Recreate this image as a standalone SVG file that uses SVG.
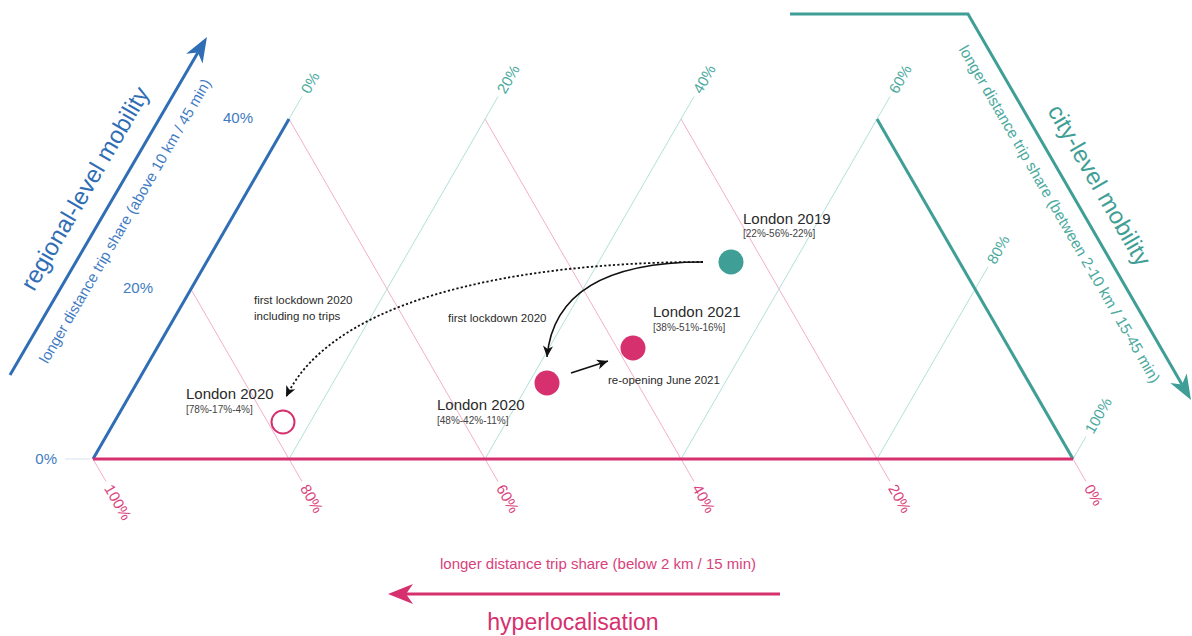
<svg xmlns="http://www.w3.org/2000/svg" width="1192" height="636" viewBox="0 0 1192 636">
<style>
text{font-family:"Liberation Sans",Arial,sans-serif}
.gp{stroke:#f2a6c2;stroke-width:0.9;fill:none}
.gt{stroke:#a9ddd6;stroke-width:0.9;fill:none}
.lb{fill:#3f7bc3;font-size:15px}
.lt{fill:#4aa99e;font-size:15px;dominant-baseline:central}
.lp{fill:#d9417c;font-size:15px;dominant-baseline:central}
.nm{fill:#2a2a2a;font-size:15px}
.br{fill:#444;font-size:10px}
.an{fill:#2a2a2a;font-size:11.5px}
</style>
<defs>
<marker id="mB" markerUnits="userSpaceOnUse" orient="auto" overflow="visible" markerWidth="30" markerHeight="30"><path d="M18,0 L-7,-9.5 L0,0 L-7,9.5 Z" fill="#2f6db5"/></marker>
<marker id="mT" markerUnits="userSpaceOnUse" orient="auto" overflow="visible" markerWidth="30" markerHeight="30"><path d="M18,0 L-7,-9.5 L0,0 L-7,9.5 Z" fill="#3f9e95"/></marker>
<marker id="mP" markerUnits="userSpaceOnUse" orient="auto" overflow="visible" markerWidth="30" markerHeight="30"><path d="M18,0 L-7,-10 L0,0 L-7,10 Z" fill="#d6306e"/></marker>
<marker id="mK" markerUnits="userSpaceOnUse" orient="auto" overflow="visible" markerWidth="20" markerHeight="20"><path d="M0,0 L-11,-5 L-8,0 L-11,5 Z" fill="#111"/></marker>
</defs>

<g id="grid">
<line class="gp" x1="93" y1="459" x2="106" y2="481.5"/>
<line class="gp" x1="191" y1="289.3" x2="302" y2="481.5"/>
<line class="gp" x1="289" y1="119" x2="498" y2="481.5"/>
<line class="gp" x1="485" y1="119" x2="694" y2="481.5"/>
<line class="gp" x1="681" y1="119" x2="890" y2="481.5"/>
<line class="gp" x1="1073" y1="459" x2="1086" y2="481.5"/>
<line class="gt" x1="289" y1="119" x2="302" y2="96.5"/>
<line class="gt" x1="289" y1="459" x2="498" y2="96.5"/>
<line class="gt" x1="485" y1="459" x2="694" y2="96.5"/>
<line class="gt" x1="681" y1="459" x2="890" y2="96.5"/>
<line class="gt" x1="877" y1="459" x2="988" y2="266.8"/>
<line class="gt" x1="1073" y1="459" x2="1086" y2="436.5"/>
<line x1="65" y1="459" x2="90" y2="459" stroke="#d9e3ef" stroke-width="1"/>
</g>

<g id="triangle">
<line x1="93" y1="459" x2="289" y2="119" stroke="#2f6db5" stroke-width="3"/>
<line x1="877" y1="119" x2="1073" y2="459" stroke="#3f9e95" stroke-width="3"/>
<line x1="93" y1="459" x2="1073" y2="459" stroke="#d6306e" stroke-width="3.2"/>
</g>

<g id="axis-labels">
<text class="lb" x="57" y="464" text-anchor="end">0%</text>
<text class="lb" x="138" y="293" text-anchor="middle">20%</text>
<text class="lb" x="238" y="123" text-anchor="middle">40%</text>
<text class="lt" transform="translate(304.5,92) rotate(-60)">0%</text>
<text class="lt" transform="translate(500.5,92) rotate(-60)">20%</text>
<text class="lt" transform="translate(696.5,92) rotate(-60)">40%</text>
<text class="lt" transform="translate(892.5,92) rotate(-60)">60%</text>
<text class="lt" transform="translate(990.5,262.5) rotate(-60)">80%</text>
<text class="lt" transform="translate(1088.5,432) rotate(-60)">100%</text>
<text class="lp" transform="translate(108.5,485.5) rotate(60)">100%</text>
<text class="lp" transform="translate(304.5,485.5) rotate(60)">80%</text>
<text class="lp" transform="translate(500.5,485.5) rotate(60)">60%</text>
<text class="lp" transform="translate(696.5,485.5) rotate(60)">40%</text>
<text class="lp" transform="translate(892.5,485.5) rotate(60)">20%</text>
<text class="lp" transform="translate(1088.5,485.5) rotate(60)">0%</text>
</g>

<g id="regional-axis">
<line x1="10" y1="375" x2="197.9" y2="52.6" stroke="#2f6db5" stroke-width="3" marker-end="url(#mB)"/>
<text transform="translate(92,192.5) rotate(-59.8)" text-anchor="middle" fill="#2f6db5" font-size="24">regional-level mobility</text>
<text transform="translate(129.5,223.6) rotate(-59.8)" text-anchor="middle" fill="#3f7bc3" font-size="15">longer distance trip share (above 10 km / 45 min)</text>
</g>

<g id="city-axis">
<path d="M790,14 L968,14 L1182,384.4" fill="none" stroke="#3f9e95" stroke-width="3" marker-end="url(#mT)"/>
<text transform="translate(1092.3,189.3) rotate(60)" text-anchor="middle" fill="#3f9e95" font-size="24">city-level mobility</text>
<text transform="translate(1055,216.7) rotate(60)" text-anchor="middle" fill="#4aa99e" font-size="15.4">longer distance trip share (between 2-10 km / 15-45 min)</text>
</g>

<g id="local-axis">
<line x1="780" y1="594" x2="406" y2="594" stroke="#d6306e" stroke-width="3" marker-end="url(#mP)"/>
<text x="598" y="569" text-anchor="middle" fill="#d9417c" font-size="15">longer distance trip share (below 2 km / 15 min)</text>
<text x="573" y="630" text-anchor="middle" fill="#d6306e" font-size="23">hyperlocalisation</text>
</g>

<g id="connectors">
<path d="M703,262 C560,262 340,285 286,397" fill="none" stroke="#111" stroke-width="1.8" stroke-dasharray="2.2 2.2" marker-end="url(#mK)"/>
<path d="M703,262 C610,262 553,290 547,357" fill="none" stroke="#111" stroke-width="1.6" marker-end="url(#mK)"/>
<line x1="571" y1="373" x2="608" y2="361" stroke="#111" stroke-width="1.8" marker-end="url(#mK)"/>
<text class="an" x="254" y="304">first lockdown 2020</text>
<text class="an" x="254" y="320">including no trips</text>
<text class="an" x="448" y="322">first lockdown 2020</text>
<text class="an" x="608" y="384">re-opening June 2021</text>
</g>

<g id="london-2019">
<circle cx="731" cy="262" r="12.5" fill="#3f9e95"/>
<text class="nm" x="743" y="224">London 2019</text>
<text class="br" x="743" y="237">[22%-56%-22%]</text>
</g>

<g id="london-2021">
<circle cx="633" cy="348" r="12.5" fill="#d6306e"/>
<text class="nm" x="653" y="317">London 2021</text>
<text class="br" x="653" y="331">[38%-51%-16%]</text>
</g>

<g id="london-2020-b">
<circle cx="547" cy="383" r="12.5" fill="#d6306e"/>
<text class="nm" x="437" y="410">London 2020</text>
<text class="br" x="437" y="424">[48%-42%-11%]</text>
</g>

<g id="london-2020-a">
<circle cx="283" cy="422" r="11.5" fill="none" stroke="#d6306e" stroke-width="2"/>
<text class="nm" x="186" y="399">London 2020</text>
<text class="br" x="186" y="413">[78%-17%-4%]</text>
</g>
</svg>
